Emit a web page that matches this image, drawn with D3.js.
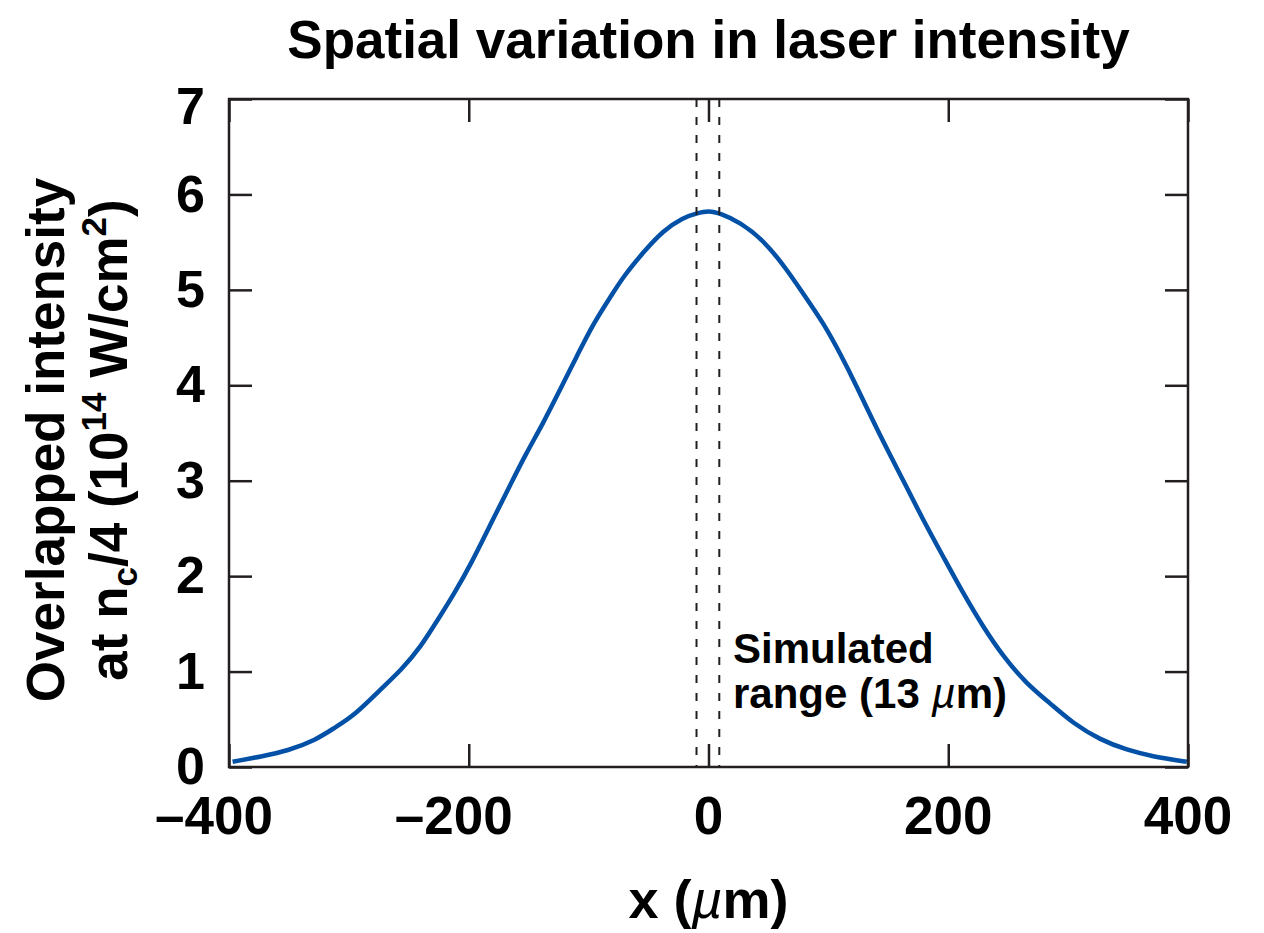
<!DOCTYPE html>
<html>
<head>
<meta charset="utf-8">
<script src="https://cdn.jsdelivr.net/npm/d3@7"></script>
<style>
  html, body { margin: 0; padding: 0; background: #fff; }
  text { font-family: "Liberation Sans", Arial, Helvetica, sans-serif; font-weight: bold; fill: #000; }
</style>
</head>
<body>
<svg id="chart" width="1264" height="933"></svg>
<script>
// ---- data ----
const positionsUm = [-397, -373, -351, -328, -312, -295, -273, -256, -240, -226, -212, -198, -180, -166, -152, -138, -124, -110, -96, -80, -71, -54, -38, -21, -10, 0, 10, 26, 46, 65, 79, 96, 110, 124, 137, 151, 165, 179, 196, 212, 229, 246, 265, 285, 304, 327, 349, 371, 399];
const intensity = [0.055, 0.11, 0.17, 0.28, 0.41, 0.545, 0.82, 1.02, 1.26, 1.54, 1.82, 2.13, 2.59, 2.94, 3.29, 3.60, 3.95, 4.30, 4.65, 4.96, 5.14, 5.40, 5.62, 5.76, 5.80, 5.83, 5.80, 5.71, 5.52, 5.22, 4.96, 4.65, 4.33, 3.98, 3.63, 3.28, 2.94, 2.59, 2.20, 1.83, 1.47, 1.155, 0.876, 0.667, 0.458, 0.283, 0.178, 0.108, 0.055];
const simulatedRange = [-10, 9];
const xTicks = [-400, -200, 0, 200, 400];
const yTicks = [0, 1, 2, 3, 4, 5, 6, 7];
const titleText = "Spatial variation in laser intensity";

const svg = d3.select("#chart");
const pL = 229, pR = 1188, pT = 99, pB = 767;

const x = d3.scaleLinear().domain([-400, 400]).range([pL, pR]);
const y = d3.scaleLinear().domain([0, 7]).range([pB, pT]);

const frameColor = "#231f20";
const tickLen = 23;

// curve
const pts = positionsUm.map((p, i) => [p, intensity[i]]);
svg.append("path")
  .datum(pts)
  .attr("fill", "none")
  .attr("stroke", "#0251a6")
  .attr("stroke-width", 4.5)
  .attr("stroke-linejoin", "round")
  .attr("d", d3.line().x(d => x(d[0])).y(d => y(d[1])).curve(d3.curveBasis));

// dashed simulated range lines
svg.selectAll("line.sim").data(simulatedRange).join("line")
  .attr("class", "sim")
  .attr("x1", d => x(d)).attr("x2", d => x(d))
  .attr("y1", pT).attr("y2", pB)
  .attr("stroke", frameColor)
  .attr("stroke-width", 2)
  .attr("stroke-dasharray", "8,10");

// axes (ticks inward, mirrored)
const fmt = d => d < 0 ? "\u2013" + Math.abs(d) : String(d);
const gB = svg.append("g").attr("transform", `translate(0,${pB})`)
  .call(d3.axisBottom(x).tickValues(xTicks).tickSize(-tickLen).tickFormat(() => ""));
const gT = svg.append("g").attr("transform", `translate(0,${pT})`)
  .call(d3.axisTop(x).tickValues(xTicks).tickSize(-tickLen).tickFormat(() => ""));
const gL = svg.append("g").attr("transform", `translate(${pL},0)`)
  .call(d3.axisLeft(y).tickValues(yTicks).tickSize(-tickLen).tickFormat(() => ""));
const gR = svg.append("g").attr("transform", `translate(${pR},0)`)
  .call(d3.axisRight(y).tickValues(yTicks).tickSize(-tickLen).tickFormat(() => ""));
[gB, gT, gL, gR].forEach(g => {
  g.select(".domain").remove();
  g.selectAll("line").attr("stroke", frameColor).attr("stroke-width", 2.5);
});

// frame
svg.append("rect")
  .attr("x", pL).attr("y", pT)
  .attr("width", pR - pL).attr("height", pB - pT)
  .attr("fill", "none").attr("stroke", frameColor).attr("stroke-width", 2.5);

// x tick labels
svg.selectAll("text.xt").data(xTicks).join("text")
  .attr("class", "xt")
  .attr("x", d => x(d) + (d < 0 ? -15 : 0))
  .attr("y", 834)
  .attr("text-anchor", "middle")
  .attr("font-size", 53)
  .text(fmt);

// y tick labels
svg.selectAll("text.yt").data(yTicks).join("text")
  .attr("class", "yt")
  .attr("x", 205)
  .attr("y", d => y(d) + (d === 7 ? 8 : 0))
  .attr("dy", "0.33em")
  .attr("text-anchor", "end")
  .attr("font-size", 52)
  .text(d => d);

// title
svg.append("text")
  .attr("x", (pL + pR) / 2)
  .attr("y", 58)
  .attr("text-anchor", "middle")
  .attr("font-size", 53)
  .text(titleText);

// x label
const xl = svg.append("text")
  .attr("x", (pL + pR) / 2)
  .attr("y", 918)
  .attr("text-anchor", "middle")
  .attr("font-size", 54);
xl.append("tspan").text("x (");
xl.append("tspan").attr("font-style", "italic").attr("font-weight", "normal").text("\u00b5");
xl.append("tspan").text("m)");

// y label (two lines)
svg.append("text")
  .attr("transform", "translate(64,440) rotate(-90)")
  .attr("text-anchor", "middle")
  .attr("font-size", 53)
  .text("Overlapped intensity");
const yl2 = svg.append("text")
  .attr("transform", "translate(127,440) rotate(-90)")
  .attr("text-anchor", "middle")
  .attr("font-size", 53);
yl2.append("tspan").text("at n");
yl2.append("tspan").attr("font-size", 35).attr("dy", 10).text("c");
yl2.append("tspan").attr("dy", -10).text("/4 (10");
yl2.append("tspan").attr("font-size", 35).attr("dy", -21).text("14");
yl2.append("tspan").attr("dy", 21).text(" W/cm");
yl2.append("tspan").attr("font-size", 35).attr("dy", -21).text("2");
yl2.append("tspan").attr("dy", 21).text(")");

// annotation
svg.append("text")
  .attr("x", 733).attr("y", 663)
  .attr("font-size", 42)
  .text("Simulated");
const an2 = svg.append("text")
  .attr("x", 733).attr("y", 708)
  .attr("font-size", 42);
an2.append("tspan").text("range (13 ");
an2.append("tspan").attr("font-style", "italic").attr("font-weight", "normal").text("\u00b5");
an2.append("tspan").text("m)");
</script>
</body>
</html>
